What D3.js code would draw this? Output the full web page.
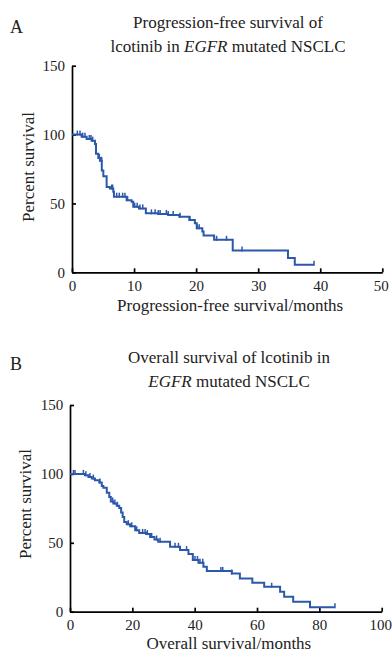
<!DOCTYPE html>
<html>
<head>
<meta charset="utf-8">
<script src="https://cdn.jsdelivr.net/npm/d3@7"></script>
<style>
  body { margin: 0; background: #fff; }
  svg { display: block; font-family: "Liberation Serif", "Times New Roman", serif; }
</style>
</head>
<body>
<svg id="chart" width="392" height="652"></svg>
<script>
// PFS step curve: [month, percent surviving]
var pfsSteps = [[0,100],[1.55,98.5],[2.36,96.8],[3.16,95.6],[3.7,93.2],[3.87,86],[4.24,83],[4.5,81],
  [4.8,74],[5.05,69.7],[5.58,62],[6.1,60.8],[6.65,58.4],[6.76,54.9],[8.8,52.4],[9.6,51.2],[9.87,47.6],
  [10.8,46.4],[11.9,42.8],[13.9,42.3],[15.5,41.6],[17.3,40.4],[18.9,38],[19.8,35.6],[20.1,32],[21,29.6],
  [21.2,26.7],[22.9,23.6],[25.9,15.8],[34.8,10.3],[35.9,5.5]]
var pfsEnd = 39
var pfsCensored = [0.86,1.29,1.72,2.09,2.79,3.06,3.33,4.4,4.78,6.39,6.55,7.2,7.62,8.16,8.53,8.96,10.1,10.5,
  10.95,11.4,12.8,13.4,13.9,14.2,15.2,15.5,16.3,17.4,19.0,20.2,20.5,23.3,24.9,27.4,39]

// OS step curve
var osSteps = [[0,100],[4.8,99],[5.9,97.8],[7,96.6],[8,95.4],[9.4,93.7],[10.2,91.3],[10.7,90],[11.8,86.4],
  [12.6,83.3],[13.1,80],[13.9,78.5],[15,76.9],[15.8,75.2],[16.4,72],[16.9,68.7],[17.4,65.1],[18.2,63.5],
  [19.3,62],[20.9,59.1],[22.2,57.2],[24.4,56.3],[25.7,54.3],[27.1,52.4],[28.3,50.7],[32.1,47.1],[35.3,44.7],
  [38,41.8],[39.4,37.5],[41.2,35.6],[42.8,32.7],[43.9,29.6],[51.9,27.7],[54.5,24.1],[58.5,21],[62.3,18.1],
  [67.4,14.5],[68.7,10.8],[71.6,7.2],[77,3.2]]
var osEnd = 85
var osCensored = [1.1,1.6,4.3,5.1,6.4,7.5,9.6,13.7,14.4,15.2,18.7,19.8,21.4,23.3,24.1,24.8,26.2,27.8,28.9,
  33.7,34.8,37.4,40.1,40.9,41.7,42.6,48.4,49,51.9,64.7,85]

var yTicks = [0, 50, 100, 150]
var pfsXTicks = [0, 10, 20, 30, 40, 50]
var osXTicks = [0, 20, 40, 60, 80, 100]

var blue = "#2c58aa"
var svg = d3.select("#chart")

function survivalAt(steps, t) {
  var v = steps[0][1]
  steps.forEach(function(s) { if (s[0] <= t) v = s[1] })
  return v
}

function panel(opt) {
  var x = d3.scaleLinear().domain([0, opt.xMax]).range([opt.left, opt.right])
  var y = d3.scaleLinear().domain([0, 150]).range([opt.bottom, opt.top])

  var g = svg.append("g")

  // letter
  g.append("text").attr("x", 10).attr("y", opt.letterY)
    .attr("font-size", 18).attr("fill", "#222").text(opt.letter)

  // title lines
  opt.title.forEach(function(line, i) {
    var t = g.append("text").attr("x", opt.titleX).attr("y", opt.titleY[i])
      .attr("text-anchor", "middle").attr("font-size", 17).attr("fill", "#222")
    line.forEach(function(part) {
      t.append("tspan").attr("font-style", part.italic ? "italic" : "normal").text(part.text)
    })
  })

  var xAxis = d3.axisBottom(x).tickValues(opt.xTicks).tickSizeInner(-4).tickSizeOuter(0).tickPadding(8)
  var yAxis = d3.axisLeft(y).tickValues(yTicks).tickSizeInner(-4).tickSizeOuter(0).tickPadding(opt.yPad)

  var gx = g.append("g").attr("transform", "translate(0," + opt.bottom + ")").call(xAxis)
  var gy = g.append("g").attr("transform", "translate(" + opt.left + ",0)").call(yAxis)
  ;[gx, gy].forEach(function(a) {
    a.selectAll(".domain").attr("stroke", "#000").attr("stroke-width", 1.7)
    a.selectAll(".tick line").attr("stroke", "#000").attr("stroke-width", 1.7)
    a.selectAll("text").attr("font-size", 15).attr("font-family", "Liberation Serif").attr("fill", "#222")
  })
  // keep the last x label inside the page
  gx.selectAll(".tick text").filter(function(d) { return d === opt.xMax }).attr("dx", -1.5)

  // axis titles
  g.append("text").attr("x", (opt.left + opt.right) / 2 + 3).attr("y", opt.xTitleY)
    .attr("text-anchor", "middle").attr("font-size", 17).attr("fill", "#222").text(opt.xTitle)
  g.append("text").attr("transform", "translate(" + opt.yTitleX + "," + opt.yTitleCy + ") rotate(-90)")
    .attr("text-anchor", "middle").attr("font-size", 17).attr("fill", "#222").text("Percent survival")

  // KM curve
  var pts = opt.steps.concat([[opt.end, opt.steps[opt.steps.length - 1][1]]])
  var line = d3.line().x(function(d) { return x(d[0]) }).y(function(d) { return y(d[1]) })
    .curve(d3.curveStepAfter)
  g.append("path").datum(pts)
    .attr("fill", "none").attr("stroke", blue).attr("stroke-width", 2)
    .attr("d", line)

  // censor marks
  g.selectAll(null).data(opt.censored).enter().append("line")
    .attr("x1", function(d) { return x(d) }).attr("x2", function(d) { return x(d) })
    .attr("y1", function(d) { return y(survivalAt(opt.steps, d)) + 1 })
    .attr("y2", function(d) { return y(survivalAt(opt.steps, d)) - 4 })
    .attr("stroke", blue).attr("stroke-width", 1.5)
}

panel({
  letter: "A", letterY: 33,
  title: [[{text: "Progression-free survival of"}],
          [{text: "lcotinib in "}, {text: "EGFR", italic: true}, {text: " mutated NSCLC"}]],
  titleX: 228, titleY: [27.5, 51.5],
  left: 72, right: 382.3, top: 65.7, bottom: 272.3, xMax: 50, yPad: 7,
  xTicks: pfsXTicks, xTitle: "Progression-free survival/months", xTitleY: 311,
  yTitleX: 34, yTitleCy: 167,
  steps: pfsSteps, end: pfsEnd, censored: pfsCensored
})

panel({
  letter: "B", letterY: 370,
  title: [[{text: "Overall survival of lcotinib in"}],
          [{text: "EGFR", italic: true}, {text: " mutated NSCLC"}]],
  titleX: 229, titleY: [363, 386.7],
  left: 70, right: 381.7, top: 405, bottom: 611.7, xMax: 100, yPad: 6.7,
  xTicks: osXTicks, xTitle: "Overall survival/months", xTitleY: 649,
  yTitleX: 31, yTitleCy: 504,
  steps: osSteps, end: osEnd, censored: osCensored
})
</script>
</body>
</html>
